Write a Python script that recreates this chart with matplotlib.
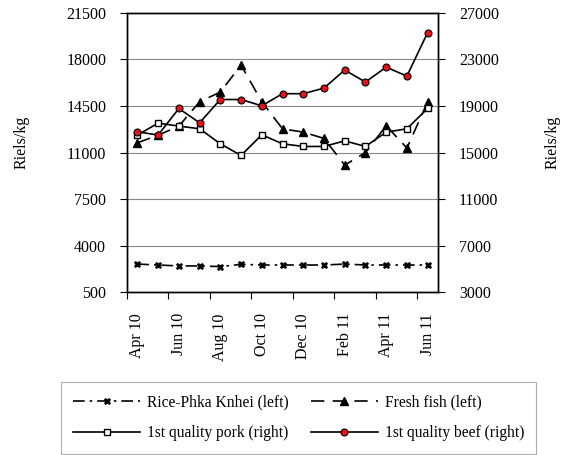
import numpy as np
import matplotlib.pyplot as plt

plt.rcParams['font.family'] = ['Liberation Serif', 'DejaVu Serif']

months = ['Apr 10', 'May 10', 'Jun 10', 'Jul 10', 'Aug 10', 'Sep 10', 'Oct 10', 'Nov 10',
          'Dec 10', 'Jan 11', 'Feb 11', 'Mar 11', 'Apr 11', 'May 11', 'Jun 11']

# left axis series
rice = [2620, 2550, 2480, 2480, 2430, 2600, 2550, 2550, 2550, 2550, 2620, 2550, 2550, 2550, 2550]
fish = [11730, 12300, 12980, 14810, 15540, 17570, 14810, 12780, 12530, 12060, 10050, 11000, 13010, 11330, 14810]

# right axis series
pork = [16500, 17520, 17270, 17040, 15750, 14750, 16520, 15750, 15520, 15520, 16000, 15520, 16750, 17040, 18780]
beef = [16780, 16500, 18780, 17550, 19550, 19550, 19010, 20050, 20050, 20530, 22080, 21050, 22330, 21560, 25300]

left_ticks = [500, 4000, 7500, 11000, 14500, 18000, 21500]
right_ticks = [3000, 7000, 11000, 15000, 19000, 23000, 27000]

x = np.arange(len(months))
fs = 11.5

fig = plt.figure(figsize=(5.63, 4.55), dpi=100)
ax = fig.add_axes([0.2256, 0.3576, 0.5524, 0.6144])
ax2 = ax.twinx()

l1, = ax.plot(x, rice, color='black', lw=1.2, linestyle=(0, (7, 3, 1.5, 3)),
              marker='X', markersize=4.5, markeredgewidth=0.5)
l2, = ax.plot(x, fish, color='black', lw=1.2, linestyle=(0, (8, 5)),
              marker='^', markersize=5.5)
l3, = ax2.plot(x, pork, color='black', lw=1.2, marker='s', markersize=5,
               markerfacecolor='white', markeredgecolor='black', markeredgewidth=1.0)
l4, = ax2.plot(x, beef, color='black', lw=1.2, marker='o', markersize=5,
               markerfacecolor='#e8101a', markeredgecolor='black', markeredgewidth=0.8)

ax.set_xlim(-0.5, len(months) - 0.5)
ax.set_ylim(left_ticks[0], left_ticks[-1])
ax2.set_ylim(right_ticks[0], right_ticks[-1])
ax.set_yticks(left_ticks)
ax2.set_yticks(right_ticks)

ax.set_xticks(x[::2])
ax.set_xticklabels(months[::2], rotation=90)
ax.set_xticks(np.arange(-0.5, len(months), 2), minor=True)
ax.tick_params(axis='x', which='major', length=0, pad=15, labelsize=fs)
ax.tick_params(axis='x', which='minor', length=5, direction='out', width=0.8)
ax.tick_params(axis='y', length=5, direction='out', width=0.8, labelsize=fs, pad=10)
ax2.tick_params(axis='y', length=5, direction='out', width=0.8, labelsize=fs, pad=10)

ax.grid(axis='y', color='#888888', lw=0.8)
ax.set_axisbelow(True)
for a in (ax, ax2):
    for s in a.spines.values():
        s.set_linewidth(1.0)

ax.set_ylabel('Riels/kg', fontsize=fs)
ax2.set_ylabel('Riels/kg', fontsize=fs)
ax.yaxis.set_label_coords(-0.312, 0.5375)
ax2.yaxis.set_label_coords(1.344, 0.5375)

# row-wise order: matplotlib fills columns first
leg = fig.legend([l1, l3, l2, l4],
                 ['Rice-Phka Knhei (left)', '1st quality pork (right)',
                  'Fresh fish (left)', '1st quality beef (right)'],
                 loc='upper left', bbox_to_anchor=(61 / 563, 1 - 382 / 455),
                 ncol=2, fontsize=11.2, handlelength=4.3, handletextpad=0.45,
                 frameon=True, fancybox=False, edgecolor='#999999',
                 borderaxespad=0, columnspacing=1.4, labelspacing=0.95,
                 borderpad=0.8)
leg.get_frame().set_linewidth(0.8)

fig.savefig('out.png', dpi=100)
